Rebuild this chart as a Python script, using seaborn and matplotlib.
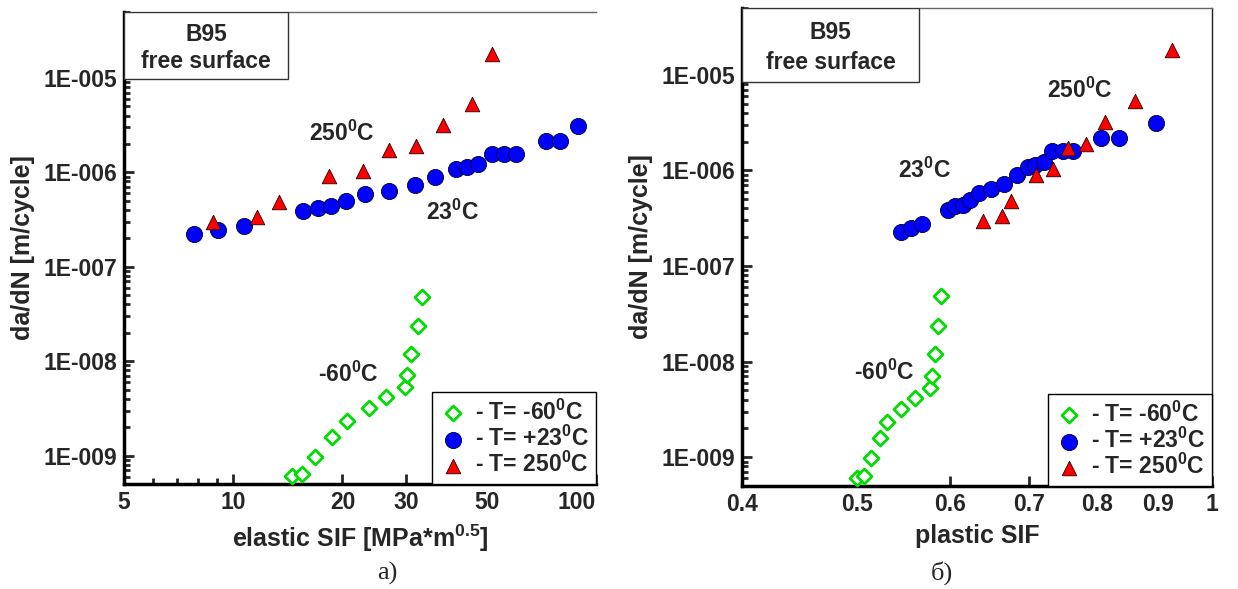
import numpy as np
import pandas as pd
import seaborn as sns
import matplotlib.pyplot as plt
from matplotlib.ticker import FixedLocator, FuncFormatter, NullFormatter
from matplotlib.patches import Rectangle

# da/dN [m/cycle], same values in both panels
rate_cold = [6.1e-10, 6.4e-10, 9.7e-10, 1.59e-9, 2.33e-9, 3.19e-9,
             4.2e-9, 5.3e-9, 7.1e-9, 1.2e-8, 2.37e-8, 4.8e-8]
rate_room = [2.25e-7, 2.48e-7, 2.73e-7, 3.87e-7, 4.23e-7, 4.39e-7, 4.95e-7,
             5.83e-7, 6.32e-7, 7.26e-7, 8.87e-7, 1.08e-6, 1.15e-6, 1.23e-6,
             1.58e-6, 1.58e-6, 1.58e-6, 2.16e-6, 2.16e-6, 3.11e-6]
rate_hot = [2.98e-7, 3.37e-7, 4.84e-7, 9.04e-7, 1.04e-6, 1.73e-6,
            1.91e-6, 3.19e-6, 5.27e-6, 1.80e-5]

# elastic SIF [MPa*m^0.5]
k_el_cold = [14.5, 15.5, 16.8, 18.7, 20.6, 23.6, 26.4, 29.8, 30.2, 30.9,
             32.2, 33.1]
k_el_room = [7.8, 9.1, 10.7, 15.6, 17.1, 18.6, 20.5, 23.1, 26.9, 31.7, 35.9,
             41.0, 44.1, 47.2, 51.7, 55.6, 60.3, 72.9, 79.6, 89.3]
k_el_hot = [8.8, 11.6, 13.4, 18.4, 22.8, 26.9, 31.9, 37.9, 45.6, 51.7]

# plastic SIF
k_pl_cold = [0.500, 0.507, 0.514, 0.523, 0.531, 0.545, 0.560, 0.577, 0.579,
             0.583, 0.586, 0.590]
k_pl_room = [0.545, 0.556, 0.568, 0.598, 0.606, 0.615, 0.624, 0.635, 0.650,
             0.667, 0.684, 0.699, 0.708, 0.720, 0.732, 0.748, 0.762, 0.806,
             0.834, 0.897]
k_pl_hot = [0.640, 0.664, 0.676, 0.709, 0.733, 0.755, 0.782, 0.812, 0.860,
            0.925]

series_labels = ["- T= -60$^{\\mathbf{0}}$C", "- T= +23$^{\\mathbf{0}}$C",
                 "- T= 250$^{\\mathbf{0}}$C"]
el_ticks = [5, 10, 20, 30, 50, 100]
el_tick_labels = ["5", "10", "20", "30", "50", "100"]
pl_ticks = [0.4, 0.5, 0.6, 0.7, 0.8, 0.9, 1.0]
pl_tick_labels = ["0.4", "0.5", "0.6", "0.7", "0.8", "0.9", "1"]
y_ticks = [1e-9, 1e-8, 1e-7, 1e-6, 1e-5]

sns.set_theme(style="white")
plt.rcParams["font.family"] = ["Liberation Sans", "DejaVu Sans"]
plt.rcParams["font.weight"] = "bold"
plt.rcParams["mathtext.fontset"] = "custom"
plt.rcParams["mathtext.rm"] = "Liberation Sans"
plt.rcParams["mathtext.bf"] = "Liberation Sans:bold"

styles = [
    dict(marker="D", s=58, color="white", edgecolor="#00dd00", linewidth=2.0),
    dict(marker="o", s=135, color="#0000ff", edgecolor="#000022", linewidth=0.6),
    dict(marker="^", s=110, color="#ff0000", edgecolor="#220000", linewidth=0.6),
]


def draw_panel(ax, xs, xlabel, box_w, box_h, notes):
    rates = [rate_cold, rate_room, rate_hot]
    for x, y, st, lab in zip(xs, rates, styles, series_labels):
        df = pd.DataFrame({"K": x, "rate": y})
        sns.scatterplot(data=df, x="K", y="rate", ax=ax, label=lab,
                        zorder=3, clip_on=False, **st)

    ax.set_xscale("log")
    ax.set_yscale("log")
    ax.set_ylim(5e-10, 5e-5)
    ax.yaxis.set_major_locator(FixedLocator(y_ticks))
    ax.yaxis.set_major_formatter(
        FuncFormatter(lambda v, p: f"1E-{round(-np.log10(v)):03d}"))
    minor = [m * 10.0 ** e for e in range(-10, -4) for m in range(2, 10)]
    ax.yaxis.set_minor_locator(FixedLocator(minor))
    ax.yaxis.set_minor_formatter(NullFormatter())

    ax.tick_params(axis="both", which="both", direction="in",
                   left=True, bottom=True, top=False, right=False,
                   width=2, labelsize=16.5)
    ax.tick_params(axis="both", which="major", length=7, pad=5)
    ax.tick_params(axis="both", which="minor", length=4)

    for side in ["left", "bottom"]:
        ax.spines[side].set_linewidth(2.5)
        ax.spines[side].set_color("black")
    ax.spines["top"].set_linewidth(1)
    ax.spines["top"].set_color("#666666")

    ax.set_xlabel(xlabel, fontsize=18, fontweight="bold", labelpad=6)
    ax.set_ylabel("da/dN [m/cycle]", fontsize=18, fontweight="bold",
                  labelpad=6)

    # "B95 / free surface" box in the upper left corner
    ax.add_patch(Rectangle((0, 1 - box_h), box_w, box_h,
                           transform=ax.transAxes, facecolor="white",
                           edgecolor="#333333", linewidth=1, zorder=4))
    ax.text(box_w / 2, 1 - box_h * 0.33, "B95", transform=ax.transAxes,
            ha="center", va="center", fontsize=16.5, fontweight="bold",
            zorder=5)
    ax.text(box_w / 2, 1 - box_h * 0.73, "free surface",
            transform=ax.transAxes, ha="center", va="center",
            fontsize=16.5, fontweight="bold", zorder=5)

    for x, y, txt in notes:
        ax.text(x, y, txt, ha="center", va="center", fontsize=16.5,
                fontweight="bold")

    leg = ax.legend(loc="lower right", bbox_to_anchor=(1, 0),
                    borderaxespad=0, frameon=True, fancybox=False,
                    framealpha=1, edgecolor="black",
                    prop={"size": 16.5, "weight": "bold"},
                    labelspacing=0.05, handletextpad=0.3, handlelength=1.3,
                    borderpad=0.3)
    leg.get_frame().set_linewidth(1)
    leg.set_zorder(6)


fig = plt.figure(figsize=(12.38, 5.89), dpi=100)
ax1 = fig.add_axes([0.1002, 0.1783, 0.3813, 0.8014])
ax2 = fig.add_axes([0.5994, 0.1749, 0.3796, 0.8115])

draw_panel(ax1, [k_el_cold, k_el_room, k_el_hot],
           "elastic SIF [MPa*m$^{\\mathbf{0.5}}$]", 0.347, 0.143,
           [(19.9, 2.57e-6, "250$^{\\mathbf{0}}$C"),
            (40.1, 3.77e-7, "23$^{\\mathbf{0}}$C"),
            (20.7, 7.2e-9, "-60$^{\\mathbf{0}}$C")])
ax1.set_xlim(5, 100)
ax1.xaxis.set_major_locator(FixedLocator(el_ticks))
ax1.set_xticklabels(el_tick_labels)
ax1.xaxis.set_minor_locator(FixedLocator([6, 7, 8, 9, 40, 60, 70, 80, 90]))
ax1.xaxis.set_minor_formatter(NullFormatter())
ax1.get_xticklabels()[-1].set_horizontalalignment("right")
ax1.spines["right"].set_visible(False)

draw_panel(ax2, [k_pl_cold, k_pl_room, k_pl_hot], "plastic SIF", 0.377, 0.155,
           [(0.773, 6.9e-6, "250$^{\\mathbf{0}}$C"),
            (0.571, 1.0e-6, "23$^{\\mathbf{0}}$C"),
            (0.528, 7.8e-9, "-60$^{\\mathbf{0}}$C")])
ax2.set_xlim(0.4, 1.0)
ax2.xaxis.set_major_locator(FixedLocator(pl_ticks))
ax2.set_xticklabels(pl_tick_labels)
ax2.xaxis.set_minor_locator(FixedLocator([]))
ax2.spines["right"].set_linewidth(1)
ax2.spines["right"].set_color("#222222")

fig.text(0.313, 0.027, "a)", ha="center", va="center", fontsize=19,
         family="Liberation Serif", fontweight="normal")
fig.text(0.761, 0.027, "б)", ha="center", va="center", fontsize=19,
         family="Liberation Serif", fontweight="normal")

fig.savefig("out.png", dpi=100)
